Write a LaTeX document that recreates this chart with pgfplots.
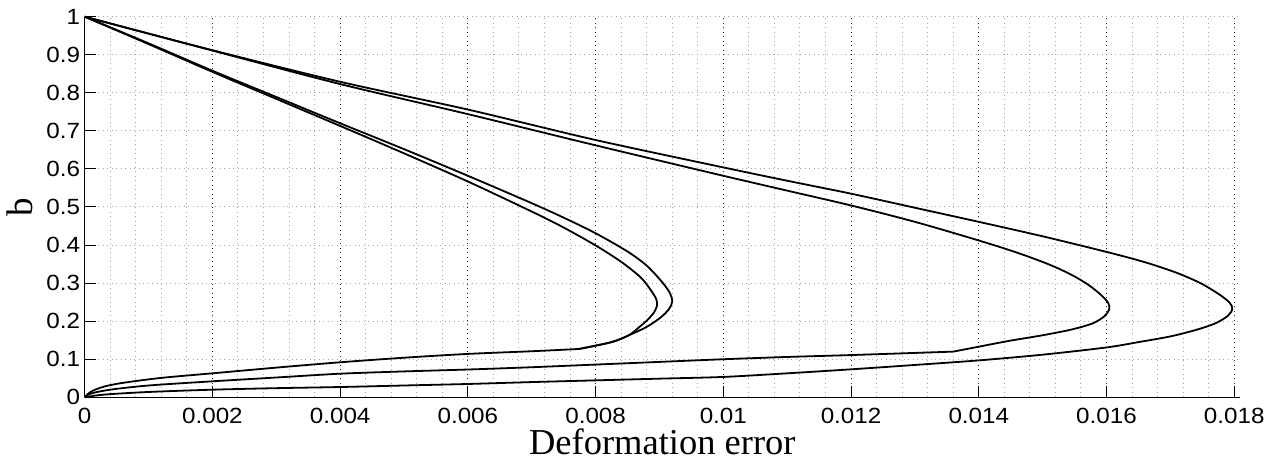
\documentclass[border=0pt]{standalone}
\usepackage{fontspec}
\setmainfont{Liberation Sans}
\newfontfamily\tickfont[FakeStretch=1.1]{Liberation Sans}
\newfontfamily\labelfont{Liberation Serif}
\usepackage{pgfplots}
\pgfplotsset{compat=1.18}

\begin{document}
\begin{tikzpicture}[x=1pt,y=1pt]
\useasboundingbox (0,0) rectangle (1274,463);
\begin{axis}[
    at={(84.7pt,65.7pt)}, anchor=south west,
    scale only axis,
    width=1155.3pt, height=380.6pt,
    xmin=0, xmax=0.01809,
    ymin=0, ymax=1,
    axis lines*=left,
    axis line style={black, line width=1pt},
    xtick={0,0.002,0.004,0.006,0.008,0.01,0.012,0.014,0.016,0.018},
    xticklabels={0,0.002,0.004,0.006,0.008,0.01,0.012,0.014,0.016,0.018},
    ytick={0,0.1,0.2,0.3,0.4,0.5,0.6,0.7,0.8,0.9,1},
    yticklabels={0,0.1,0.2,0.3,0.4,0.5,0.6,0.7,0.8,0.9,1},
    scaled x ticks=false,
    minor x tick num=4,
    tick align=inside,
    major tick length=11pt,
    minor tick length=0pt,
    tick style={black, line width=1pt},
    grid=both,
    major x grid style={black!85, line width=1pt, dash pattern=on 1pt off 3.5pt},
    minor x grid style={black!35, line width=1pt, dash pattern=on 1pt off 3.5pt},
    major y grid style={black!35, line width=1pt, dash pattern=on 1pt off 3.5pt},
    ticklabel style={font=\tickfont\fontsize{22}{22}\selectfont},
    xticklabel style={inner sep=0pt, yshift=-10.5pt},
    yticklabel style={inner sep=0pt, xshift=-4.5pt},
    xlabel={Deformation error},
    ylabel={b},
    xlabel style={font=\labelfont\fontsize{36.5}{36.5}\selectfont, at={(axis description cs:0.5,-0.1516)}, anchor=base, inner sep=0pt},
    ylabel style={font=\labelfont\fontsize{37}{37}\selectfont, at={(axis description cs:-0.0445,0.5)}, anchor=south, inner sep=0pt},
    clip=false,
]
\pgfplotsset{curve/.style={black, line width=1.8pt, line join=round, smooth, tension=0.5}}
% inner small loop, down to the kink
\addplot[curve] coordinates {
    (0,1) (0.001,0.928) (0.002,0.855)
    (0.003,0.784) (0.004,0.713) (0.005,0.641) (0.006,0.567) (0.007,0.488)
    (0.0075,0.446) (0.008,0.399) (0.0084,0.356) (0.0087,0.316)
    (0.00885,0.285) (0.00895,0.258) (0.00896,0.240) (0.00891,0.222)
    (0.00881,0.203) (0.00868,0.184) (0.00852,0.163)
    (0.00825,0.145) (0.00774,0.127)
};
% outer small loop, down to the kink
\addplot[curve] coordinates {
    (0,1) (0.001,0.930) (0.002,0.858)
    (0.003,0.789) (0.004,0.720) (0.005,0.652) (0.006,0.582) (0.007,0.510)
    (0.0075,0.472) (0.008,0.431) (0.0085,0.383) (0.0088,0.346)
    (0.00903,0.305) (0.00916,0.275) (0.00920,0.252) (0.00915,0.232)
    (0.00902,0.210) (0.00880,0.185) (0.00852,0.163)
    (0.00825,0.145) (0.00774,0.127)
};
% shared lower branch of both small loops
\addplot[curve] coordinates {
    (0.00774,0.127) (0.007,0.121) (0.006,0.114) (0.005,0.104) (0.004,0.092)
    (0.003,0.078) (0.002,0.063) (0.0012,0.051) (0.0006,0.038) (0.0003,0.028)
    (0.0001,0.015) (0,0)
};
% middle large loop, down to the kink
\addplot[curve] coordinates {
    (0,1) (0.002,0.911) (0.004,0.823)
    (0.006,0.744) (0.008,0.662)
    (0.01,0.582) (0.011,0.543) (0.012,0.504) (0.013,0.461) (0.014,0.412)
    (0.0146,0.380) (0.0151,0.349) (0.01545,0.322) (0.01572,0.295)
    (0.01592,0.268) (0.01603,0.247) (0.01604,0.230) (0.01596,0.212)
    (0.01578,0.194) (0.01545,0.178) (0.0150,0.163) (0.0145,0.149)
    (0.014,0.133) (0.0136,0.120)
};
% middle large loop, lower branch
\addplot[curve] coordinates {
    (0.0136,0.120) (0.012,0.111) (0.011,0.106) (0.01,0.100)
    (0.009,0.093) (0.008,0.086) (0.007,0.079) (0.006,0.073) (0.005,0.068)
    (0.004,0.062) (0.003,0.052) (0.002,0.042) (0.001,0.031) (0.0004,0.020)
    (0.0001,0.010) (0,0)
};
% outer large loop
\addplot[curve] coordinates {
    (0,1) (0.002,0.912) (0.004,0.829)
    (0.006,0.756) (0.008,0.676)
    (0.01,0.604) (0.011,0.569) (0.012,0.535) (0.013,0.498) (0.014,0.461)
    (0.015,0.423) (0.016,0.382) (0.0166,0.355) (0.0171,0.327) (0.01747,0.300)
    (0.01775,0.272) (0.01792,0.250) (0.01797,0.233) (0.01790,0.214)
    (0.01770,0.194) (0.0174,0.177) (0.0170,0.160) (0.0165,0.145)
    (0.016,0.131) (0.015,0.112) (0.014,0.097) (0.013,0.085) (0.012,0.0735)
    (0.011,0.063) (0.01,0.0535) (0.009,0.049) (0.008,0.0445) (0.007,0.040)
    (0.006,0.035) (0.005,0.031) (0.004,0.027) (0.003,0.024) (0.002,0.020)
    (0.001,0.014) (0.0003,0.007) (0,0)
};
\end{axis}
\end{tikzpicture}
\end{document}
